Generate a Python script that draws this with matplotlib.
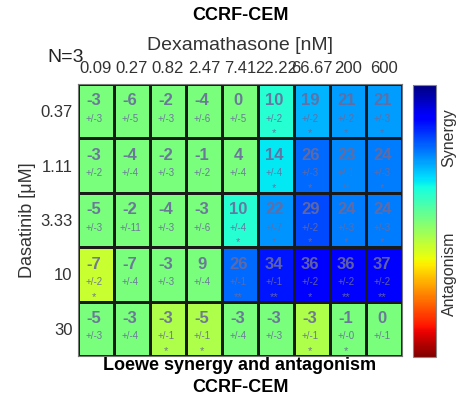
import numpy as np
import matplotlib
matplotlib.use("Agg")
import matplotlib.pyplot as plt
from matplotlib.colors import Normalize
from matplotlib.colorbar import ColorbarBase

plt.rcParams['font.family'] = ['Liberation Sans', 'DejaVu Sans']

dex = ['0.09', '0.27', '0.82', '2.47', '7.41', '22.22', '66.67', '200', '600']
dasa = ['0.37', '1.11', '3.33', '10', '30']

# Loewe synergy score (mean) per combination, rows = dasatinib, cols = dexamethasone
score = np.array([
    [-3, -6, -2, -4, 0, 10, 19, 21, 21],
    [-3, -4, -2, -1, 4, 14, 26, 23, 24],
    [-5, -2, -4, -3, 10, 22, 29, 24, 24],
    [-7, -7, -3, 9, 26, 34, 36, 36, 37],
    [-5, -3, -3, -5, -3, -3, -3, -1, 0],
])
err = np.array([
    [3, 5, 3, 6, 5, 2, 2, 2, 3],
    [2, 4, 3, 2, 4, 4, 3, 1, 3],
    [3, 11, 3, 6, 4, 7, 2, 3, 3],
    [2, 4, 3, 4, 1, 1, 2, 2, 2],
    [3, 4, 1, 1, 4, 3, 1, 0, 1],
])
stars = [
    ['', '', '', '', '', '*', '*', '*', '*'],
    ['', '', '', '', '', '*', '*', '**', '*'],
    ['', '', '', '', '*', '*', '*', '*', '*'],
    ['*', '', '', '', '**', '**', '*', '**', '**'],
    ['', '', '*', '*', '', '', '*', '*', ''],
]
# colour level of each cell (non-significant cells sit at 0)
shade = np.array([
    [0, 0, 0, 0, 0, 10, 19, 21, 21],
    [0, 0, 0, 0, 0, 14, 26, 23, 24],
    [0, 0, 0, 0, 10, 22, 29, 24, 24],
    [-9, 0, 0, 0, 26, 34, 36, 36, 37],
    [0, 0, -6, -6, 0, 0, -6, 0, 0],
])

W, H = 465, 401
fig = plt.figure(figsize=(W / 100, H / 100), dpi=100)
norm = Normalize(vmin=-48, vmax=48)
cmap = plt.get_cmap('jet_r')

ax = fig.add_axes([78 / W, 1 - 356 / H, 324 / W, 272 / H])
ax.pcolormesh(shade, cmap=cmap, norm=norm, edgecolors='#1a1a1a', linewidth=0.75)
ax.set_xlim(0, len(dex))
ax.set_ylim(len(dasa), 0)
ax.xaxis.tick_top()
ax.set_xticks(np.arange(len(dex)) + 0.5)
ax.set_xticklabels(dex, fontsize=12, color='#333333')
ax.set_yticks(np.arange(len(dasa)) + 0.5)
ax.set_yticklabels(dasa, fontsize=12, color='#333333')
ax.tick_params(axis='x', length=0, pad=6)
ax.tick_params(axis='y', length=0, pad=4)
for s in ax.spines.values():
    s.set_color('#777777')
    s.set_linewidth(0.8)

txt = '#6a6a9c'
for i in range(len(dasa)):
    for j in range(len(dex)):
        ax.text(j + 0.45, i + 0.31, str(score[i, j]), ha='center', va='center',
                fontsize=12, fontweight='bold', color=txt, alpha=0.9)
        ax.text(j + 0.45, i + 0.64, '+/-%d' % err[i, j], ha='center', va='center',
                fontsize=7, color=txt, alpha=0.9)
        if stars[i][j]:
            ax.text(j + 0.45, i + 0.91, stars[i][j], ha='center', va='center',
                    fontsize=8, color=txt, alpha=0.9)

cax = fig.add_axes([413 / W, 1 - 357 / H, 23 / W, 272 / H])
cb = ColorbarBase(cax, cmap=cmap, norm=norm, orientation='vertical')
cb.set_ticks([])
cb.outline.set_edgecolor('#888888')

fig.text(449 / W, 1 - 138 / H, 'Synergy', rotation=90, ha='center', va='center',
         fontsize=11.5, color='#333333')
fig.text(449 / W, 1 - 274 / H, 'Antagonism', rotation=90, ha='center', va='center',
         fontsize=11.5, color='#333333')

fig.text(240 / W, 1 - 15 / H, 'CCRF-CEM', ha='center', va='center',
         fontsize=13, fontweight='bold', color='black')
fig.text(240 / W, 1 - 46 / H, 'Dexamathasone [nM]', ha='center', va='center',
         fontsize=14, color='#333333')
fig.text(47 / W, 1 - 58 / H, 'N=3', ha='left', va='center', fontsize=14, color='#222222')
fig.text(28 / W, 1 - 220 / H, 'Dasatinib [\u03bcM]', rotation=90, ha='center', va='center',
         fontsize=13, color='#333333')
fig.text(240 / W, 1 - 366 / H, 'Loewe synergy and antagonism', ha='center', va='center',
         fontsize=13, fontweight='bold', color='black')
fig.text(240 / W, 1 - 388 / H, 'CCRF-CEM', ha='center', va='center',
         fontsize=13, fontweight='bold', color='black')

fig.savefig('out.png', dpi=100)
